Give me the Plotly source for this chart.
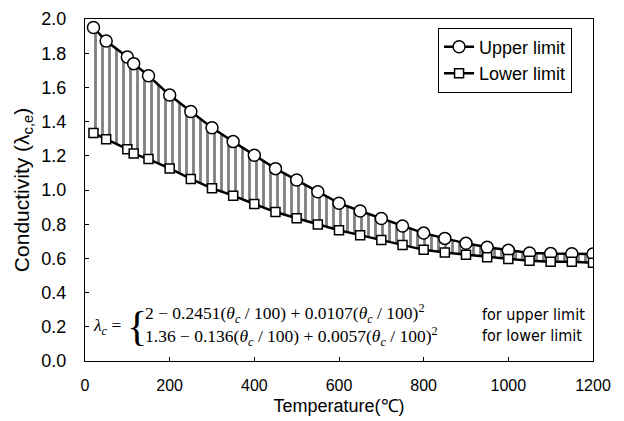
import plotly.graph_objects as go

# temperature (C) and conductivity values
temperature = [20, 50, 100, 115, 150, 200, 250, 300, 350, 400, 450, 500, 550, 600,
               650, 700, 750, 800, 850, 900, 950, 1000, 1050, 1100, 1150, 1200]
upper_limit = [1.950, 1.871, 1.778, 1.739, 1.668, 1.555, 1.459, 1.364, 1.283, 1.203,
               1.125, 1.058, 0.990, 0.923, 0.877, 0.833, 0.789, 0.748, 0.717, 0.688,
               0.665, 0.647, 0.632, 0.628, 0.627, 0.626]
lower_limit = [1.333, 1.297, 1.239, 1.213, 1.181, 1.126, 1.065, 1.010, 0.967, 0.918,
               0.871, 0.835, 0.798, 0.765, 0.736, 0.707, 0.678, 0.650, 0.634, 0.622,
               0.607, 0.597, 0.586, 0.581, 0.580, 0.574]

x_ticks = [0, 200, 400, 600, 800, 1000, 1200]
y_ticks = [0.0, 0.2, 0.4, 0.6, 0.8, 1.0, 1.2, 1.4, 1.6, 1.8, 2.0]

fig = go.Figure()

# hatched band between the limits
fig.add_trace(go.Scatter(x=temperature, y=lower_limit, mode="lines",
                         line=dict(width=0), showlegend=False, hoverinfo="skip"))
fig.add_trace(go.Scatter(x=temperature, y=upper_limit, mode="lines",
                         line=dict(width=0), fill="tonexty",
                         fillcolor="rgba(0,0,0,0)",
                         fillpattern=dict(shape="|", fgcolor="black", bgcolor="rgba(0,0,0,0)",
                                          size=7, solidity=0.4),
                         showlegend=False, hoverinfo="skip"))

fig.add_trace(go.Scatter(x=temperature, y=upper_limit, mode="lines+markers",
                         name="Upper limit",
                         line=dict(color="black", width=2.5),
                         marker=dict(symbol="circle", size=12, color="white",
                                     line=dict(color="black", width=1.5))))
fig.add_trace(go.Scatter(x=temperature, y=lower_limit, mode="lines+markers",
                         name="Lower limit",
                         line=dict(color="black", width=2.5),
                         marker=dict(symbol="square", size=9, color="white",
                                     line=dict(color="black", width=1.5))))

serif = dict(family="Liberation Serif", size=17.5, color="black")
th = "(<i>θ<sub>c</sub></i> / 100)"
fig.add_annotation(x=14, y=0.2, text="<i>λ<sub>c</sub></i> =", showarrow=False,
                   xanchor="left", yanchor="middle", font=serif)
fig.add_annotation(x=94, y=0.205, text="{", showarrow=False,
                   xanchor="left", yanchor="middle",
                   font=dict(family="Liberation Serif", size=42, color="black"))
fig.add_annotation(x=136, y=0.28, text="2 − 0.2451" + th + " + 0.0107" + th + "<sup>2</sup>",
                   showarrow=False, xanchor="left", yanchor="middle", font=serif)
fig.add_annotation(x=136, y=0.142, text="1.36 − 0.136" + th + " + 0.0057" + th + "<sup>2</sup>",
                   showarrow=False, xanchor="left", yanchor="middle", font=serif)
sans = dict(family="DejaVu Sans Condensed", size=16, color="black")
fig.add_annotation(x=932, y=0.272, text="for upper limit", showarrow=False,
                   xanchor="left", yanchor="middle", font=sans)
fig.add_annotation(x=932, y=0.151, text="for lower limit", showarrow=False,
                   xanchor="left", yanchor="middle", font=sans)

fig.update_xaxes(range=[0, 1200], tickvals=x_ticks, ticks="inside", ticklen=4,
                 tickcolor="black", showgrid=False, zeroline=False,
                 showline=True, linecolor="black", linewidth=1, mirror=True,
                 ticklabelstandoff=10, tickfont=dict(size=16), automargin=False,
                 title=dict(text="Temperature(℃)", font=dict(size=18), standoff=6))
fig.update_yaxes(range=[0, 2.0], tickvals=y_ticks, tickformat=".1f", ticks="inside",
                 ticklen=4, tickcolor="black", showgrid=False, zeroline=False,
                 showline=True, linecolor="black", linewidth=1, mirror=True,
                 ticklabelstandoff=14, tickfont=dict(size=18), automargin=False,
                 title=dict(text="Conductivity (λ<sub>c,e</sub>)", font=dict(size=21), standoff=6))

# the page puts the figure 8px in from the corner, so size and margins allow for that
fig.update_layout(width=616, height=413, template="plotly_white",
                  plot_bgcolor="white", paper_bgcolor="white",
                  font=dict(family="Liberation Sans", color="black"),
                  margin=dict(l=77, r=31, t=11, b=60),
                  legend=dict(x=0.695, y=0.975, xanchor="left", yanchor="top",
                              traceorder="normal",
                              bordercolor="black", borderwidth=1, bgcolor="white",
                              font=dict(size=18), itemwidth=30, tracegroupgap=0))

fig.write_html("out.html")
